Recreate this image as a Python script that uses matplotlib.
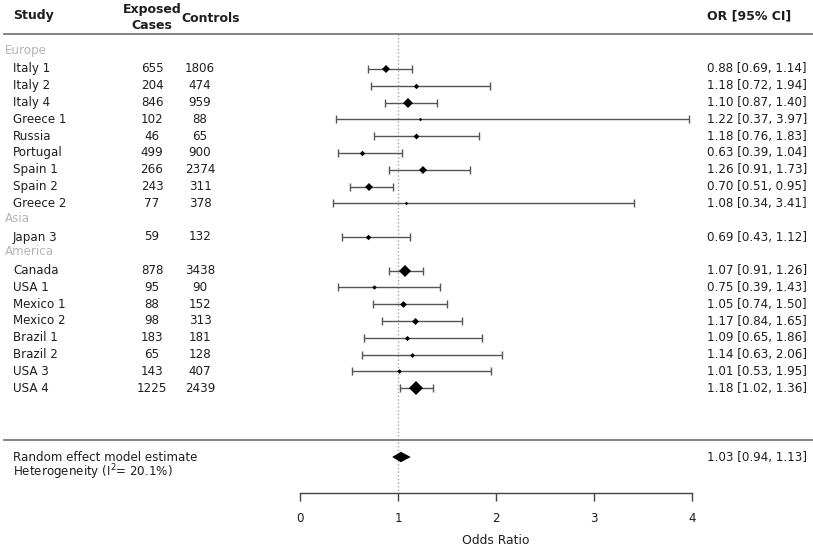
import numpy as np
import matplotlib
matplotlib.use("Agg")
import matplotlib.pyplot as plt
from matplotlib import transforms

plt.rcParams['font.family'] = ['DejaVu Sans']

# ---------------- data ----------------
regions = ["Europe", "Asia", "America"]
region_studies = {
    "Europe": ["Italy 1", "Italy 2", "Italy 4", "Greece 1", "Russia", "Portugal",
               "Spain 1", "Spain 2", "Greece 2"],
    "Asia": ["Japan 3"],
    "America": ["Canada", "USA 1", "Mexico 1", "Mexico 2", "Brazil 1", "Brazil 2",
                "USA 3", "USA 4"],
}
exposed_cases = [655, 204, 846, 102, 46, 499, 266, 243, 77,
                 59,
                 878, 95, 88, 98, 183, 65, 143, 1225]
controls = [1806, 474, 959, 88, 65, 900, 2374, 311, 378,
            132,
            3438, 90, 152, 313, 181, 128, 407, 2439]
odds_ratio = [0.88, 1.18, 1.10, 1.22, 1.18, 0.63, 1.26, 0.70, 1.08,
              0.69,
              1.07, 0.75, 1.05, 1.17, 1.09, 1.14, 1.01, 1.18]
ci_low = [0.69, 0.72, 0.87, 0.37, 0.76, 0.39, 0.91, 0.51, 0.34,
          0.43,
          0.91, 0.39, 0.74, 0.84, 0.65, 0.63, 0.53, 1.02]
ci_high = [1.14, 1.94, 1.40, 3.97, 1.83, 1.04, 1.73, 0.95, 3.41,
           1.12,
           1.26, 1.43, 1.50, 1.65, 1.86, 2.06, 1.95, 1.36]
summary_or, summary_low, summary_high = 1.03, 0.94, 1.13
heterogeneity_i2 = 20.1
x_ticks = [0, 1, 2, 3, 4]

# ---------------- layout ----------------
W, H = 813, 551
fig = plt.figure(figsize=(W / 100, H / 100), dpi=100)
row_px = 16.8
first_px = 69.0
# axes spans full height; x range 0..4 maps to pixel 300..692
ax = fig.add_axes([300 / W, 0, 392 / W, 1])
ax.set_xlim(0, 4)
ax.set_ylim(1 + (H - first_px) / row_px, 1 - first_px / row_px)


def prow(py):
    return 1 + (py - first_px) / row_px


fx = transforms.blended_transform_factory(fig.transFigure, ax.transData)
FS = 8.6
txt_col = "#1e1e1e"

# assign rows
rows = []
region_rows = []
r = 0
for reg in regions:
    region_rows.append(r)
    r += 1
    for s in region_studies[reg]:
        rows.append(r)
        r += 1
rows = np.array(rows, dtype=float)
names = [s for reg in regions for s in region_studies[reg]]

or_a = np.array(odds_ratio)
lo_a = np.array(ci_low)
hi_a = np.array(ci_high)

# marker sizes ~ inverse standard error (metafor style)
se = (np.log(hi_a) - np.log(lo_a)) / (2 * 1.96)
wi = 1 / se
psize = (wi - wi.min()) / (wi.max() - wi.min()) * 1.5 + 0.5
msizes = psize * 3.5

# reference line at OR = 1
header_row = prow(34)
axis_row = prow(493)
ax.plot([1, 1], [header_row, axis_row], color="#a8a8a8", lw=1.0,
        linestyle=(0, (1, 1.6)), zorder=1)

# CIs
for y, o, l, h, ms in zip(rows, or_a, lo_a, hi_a, msizes):
    ax.errorbar([o], [y], xerr=[[o - l], [h - o]], fmt='none', ecolor="#555555",
                elinewidth=1.0, capsize=3.2, capthick=1.0, zorder=2)
    ax.plot([o], [y], marker='D', color='black', markersize=ms,
            markeredgewidth=0, linestyle='none', zorder=3)

# summary diamond
sr = prow(457)
dh = 5.2 / row_px
ax.fill([summary_low, summary_or, summary_high, summary_or],
        [sr, sr - dh, sr, sr + dh], color='black', lw=0, zorder=3)

# horizontal separators (full width)
for yr in (header_row, prow(440)):
    ax.plot([4 / W, 1.0], [yr, yr], transform=fx, color="#7a7a7a", lw=1.3,
            clip_on=False)

# headers
hb = dict(fontsize=FS + 0.4, fontweight='bold', color=txt_col, transform=fx,
          va='center')
ax.text(13 / W, prow(16), "Study", ha='left', **hb)
ax.text(152 / W, prow(10), "Exposed", ha='center', **hb)
ax.text(152 / W, prow(26), "Cases", ha='center', **hb)
ax.text(211 / W, prow(19), "Controls", ha='center', **hb)
ax.text(707 / W, prow(16), "OR [95% CI]", ha='left', **hb)

tk = dict(fontsize=FS, color=txt_col, transform=fx, va='center')
for reg, yr in zip(regions, region_rows):
    ax.text(5 / W, yr - 0.12, reg, ha='left', fontsize=FS, color="#b5b5b5",
            transform=fx, va='center')
for y, n, e, c, o, l, h in zip(rows, names, exposed_cases, controls,
                               odds_ratio, ci_low, ci_high):
    ax.text(13 / W, y, n, ha='left', **tk)
    ax.text(152 / W, y, f"{e}", ha='center', **tk)
    ax.text(200 / W, y, f"{c}", ha='center', **tk)
    ax.text(707 / W, y, f"{o:.2f} [{l:.2f}, {h:.2f}]", ha='left', **tk)

ax.text(13 / W, prow(457), "Random effect model estimate", ha='left', **tk)
ax.text(13 / W, prow(472), f"Heterogeneity (I$^2$= {heterogeneity_i2:.1f}%)",
        ha='left', **tk)
ax.text(707 / W, sr,
        f"{summary_or:.2f} [{summary_low:.2f}, {summary_high:.2f}]",
        ha='left', **tk)

# x axis
for side in ('top', 'left', 'right'):
    ax.spines[side].set_visible(False)
ax.spines['bottom'].set_position(('data', axis_row))
ax.spines['bottom'].set_bounds(0, 4)
ax.spines['bottom'].set_color("#444444")
ax.spines['bottom'].set_linewidth(1.0)
ax.set_yticks([])
ax.set_xticks(x_ticks)
ax.set_xticklabels([str(t) for t in x_ticks])
ax.tick_params(axis='x', direction='out', length=5.5, width=1.0,
               color="#444444", labelsize=FS, labelcolor=txt_col, pad=8)
ax.set_xlabel("Odds Ratio", fontsize=FS + 0.3, color=txt_col, labelpad=7)
ax.patch.set_visible(False)

fig.savefig("out.png", dpi=100)
